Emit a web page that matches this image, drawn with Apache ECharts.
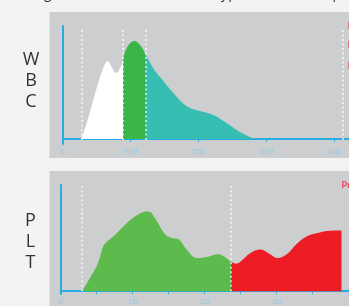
<!DOCTYPE html>
<html>
<head>
<meta charset="utf-8">
<script src="https://cdn.jsdelivr.net/npm/echarts@6/dist/echarts.min.js"></script>
<style>
html, body { margin: 0; padding: 0; background: #f3f3f3; }
#chart { width: 349px; height: 306px; }
</style>
</head>
<body>
<div id="chart"></div>
<script>
// WBC histogram: [size, count]
const wbcData = [
    [27.4, 0], [35.3, 16], [45, 39], [54.9, 62], [62.2, 75], [66.2, 78],
    [72, 72], [78.4, 66], [86.7, 74], [89, 81], [95, 92], [105.3, 98],
    [113.7, 94], [122.5, 84], [133, 71], [148, 58], [162.7, 46], [182, 33],
    [202, 28], [221.5, 24], [241, 16], [260.7, 7], [281.8, 0]
];
const wbcCuts = [27.4, 89, 122.5, 412];
const wbcTicks = [0, 100, 200, 300, 400];

// PLT histogram
const pltData = [
    [2.96, 0], [4.07, 14], [5.2, 30], [5.9, 47], [6.4, 52], [7.5, 59],
    [9.2, 72], [11.0, 82], [12.2, 84], [13.1, 77], [14.5, 60], [15.4, 56],
    [16.3, 55], [17.5, 44], [18.9, 35], [20.3, 36], [21.9, 39], [22.8, 36],
    [23.65, 31], [24.4, 29], [25.1, 32], [26.3, 40], [27.7, 44], [29.1, 39],
    [30.1, 35], [31.4, 39], [32.8, 50], [34.2, 58], [36.0, 62], [37.9, 64],
    [39.0, 64]
];
const pltCuts = [2.86, 23.65];
const pltTicks = [0, 10, 20, 30];

const axisBlue = '#29abe2';
const labelBlue = '#8dcbea';

const myChart = echarts.init(document.getElementById('chart'));

const cutLines = (cuts, lo, hi) => cuts.map((c) => [
    { coord: [c, lo] },
    { coord: [c, hi] }
]);

const option = {
    backgroundColor: '#f3f3f3',
    animation: false,
    graphic: [
        // panels
        { type: 'rect', z: -10, shape: { x: 49.5, y: 12, width: 310, height: 146 }, style: { fill: '#cdcecf' } },
        { type: 'rect', z: -10, shape: { x: 49.5, y: 171, width: 310, height: 140 }, style: { fill: '#cdcecf' } },
        // cut off title
        {
            type: 'text', x: 10, y: 1.5,
            style: {
                text: 'Histograms for all the main cell types in each sample',
                fill: '#333', font: '14px "Open Sans"', verticalAlign: 'bottom'
            }
        },
        {
            type: 'text', x: 31, y: 81,
            style: {
                text: 'W\nB\nC', fill: '#333', font: '18px "Open Sans"',
                align: 'center', verticalAlign: 'middle', lineHeight: 21
            }
        },
        {
            type: 'text', x: 30.5, y: 242,
            style: {
                text: 'P\nL\nT', fill: '#333', font: '18px "Open Sans"',
                align: 'center', verticalAlign: 'middle', lineHeight: 21
            }
        },
        // red flags on the right
        { type: 'text', x: 347.5, y: 27, style: { text: 'R1', fill: '#e2707a', font: 'bold 9px Roboto', verticalAlign: 'middle' } },
        { type: 'text', x: 347.5, y: 46, style: { text: 'R2', fill: '#e2707a', font: 'bold 9px Roboto', verticalAlign: 'middle' } },
        { type: 'text', x: 347.5, y: 67, style: { text: 'R3', fill: '#e2707a', font: 'bold 9px Roboto', verticalAlign: 'middle' } },
        { type: 'text', x: 341.5, y: 186, style: { text: 'Pr', fill: '#e2505e', font: 'bold 9px Roboto', verticalAlign: 'middle' } }
    ],
    grid: [
        { left: 62.7, top: 26, width: 286.3, height: 118 },
        { left: 60.7, top: 185, width: 288, height: 115 }
    ],
    xAxis: [
        {
            gridIndex: 0, type: 'value', min: 0, max: 421, interval: 100,
            axisLine: { lineStyle: { color: axisBlue, width: 2 } },
            axisTick: { show: true, length: 3, lineStyle: { color: axisBlue } },
            splitLine: { show: false },
            axisLabel: {
                color: labelBlue, fontSize: 8, margin: 4, fontFamily: 'Roboto',
                showMaxLabel: false,
                formatter: (v) => (wbcTicks.includes(v) ? String(v) : '')
            }
        },
        {
            gridIndex: 1, type: 'value', min: 0, max: 40, interval: 5,
            axisLine: { lineStyle: { color: axisBlue, width: 2 } },
            axisTick: { show: true, length: 3, lineStyle: { color: axisBlue } },
            splitLine: { show: false },
            axisLabel: {
                color: labelBlue, fontSize: 8, margin: 4, fontFamily: 'Roboto',
                showMaxLabel: false,
                formatter: (v) => (pltTicks.includes(v) ? String(v) : '')
            }
        }
    ],
    yAxis: [
        {
            gridIndex: 0, type: 'value', min: -5, max: 113,
            axisLine: { show: true, lineStyle: { color: axisBlue, width: 2 } },
            axisTick: { show: false }, axisLabel: { show: false }, splitLine: { show: false }
        },
        {
            gridIndex: 1, type: 'value', min: -3, max: 112,
            axisLine: { show: true, lineStyle: { color: axisBlue, width: 2 } },
            axisTick: { show: false }, axisLabel: { show: false }, splitLine: { show: false }
        }
    ],
    visualMap: [
        {
            type: 'piecewise', show: false, seriesIndex: 0, dimension: 0,
            pieces: [
                { lt: 89, color: '#ffffff' },
                { gte: 89, lt: 122.5, color: '#3bb54a' },
                { gte: 122.5, color: '#37beb3' }
            ]
        },
        {
            type: 'piecewise', show: false, seriesIndex: 1, dimension: 0,
            pieces: [
                { gte: -10, lt: 23.65, color: '#5dbb4d' },
                { gte: 23.65, lte: 100, color: '#ee1d25' }
            ]
        }
    ],
    series: [
        {
            type: 'line', xAxisIndex: 0, yAxisIndex: 0,
            data: wbcData, smooth: 0.4, showSymbol: false,
            lineStyle: { width: 0 },
            areaStyle: { opacity: 1 },
            markLine: {
                silent: true, symbol: 'none', label: { show: false },
                lineStyle: { color: 'rgba(255,255,255,0.85)', type: [2, 2.5], width: 1.5 },
                data: cutLines(wbcCuts, -1, 110)
            }
        },
        {
            type: 'line', xAxisIndex: 1, yAxisIndex: 1,
            data: pltData, smooth: 0.4, showSymbol: false,
            lineStyle: { width: 0 },
            areaStyle: { opacity: 1 },
            markLine: {
                silent: true, symbol: 'none', label: { show: false },
                lineStyle: { color: 'rgba(255,255,255,0.85)', type: [2, 2.5], width: 1.5 },
                data: cutLines(pltCuts, 0, 111)
            }
        }
    ]
};

myChart.setOption(option);
</script>
</body>
</html>
